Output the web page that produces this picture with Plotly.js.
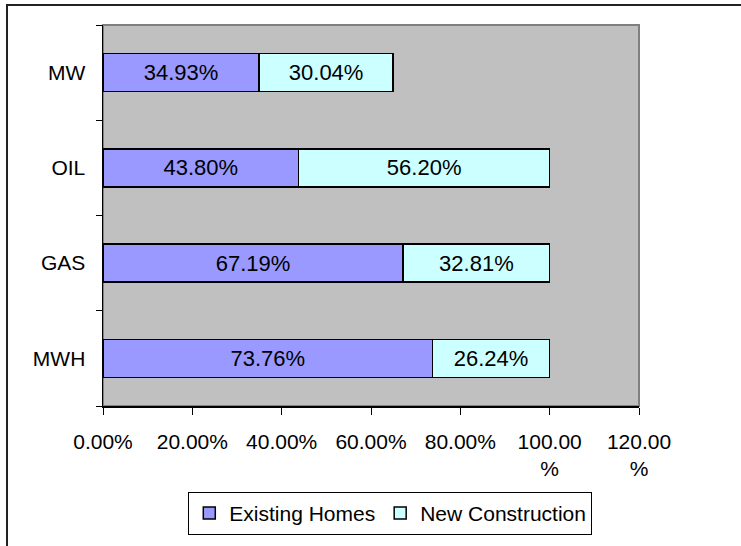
<!DOCTYPE html>
<html>
<head>
<meta charset="utf-8">
<script src="https://cdn.plot.ly/plotly-3.0.1.min.js"></script>
<style>
  html, body { margin: 0; padding: 0; background: #ffffff; }
  #wrap { position: relative; width: 741px; height: 546px; overflow: hidden; }
  #chart { position: absolute; left: 0; top: 0; width: 741px; height: 546px; }
  #frame { position: absolute; left: 6px; top: 4px; width: 900px; height: 900px;
           border-left: 2px solid #222; border-top: 2px solid #222; pointer-events: none; }
</style>
</head>
<body>
<div id="wrap">
  <div id="chart"></div>
  <div id="frame"></div>
</div>
<script>
// Categories (bottom to top as drawn)
const categories = ['MWH', 'GAS', 'OIL', 'MW'];
// Series values (percent)
const existingHomes = [73.76, 67.19, 43.80, 34.93];
const newConstruction = [26.24, 32.81, 56.20, 30.04];
const seriesNames = ['Existing Homes', 'New Construction'];
// X tick values and labels
const xTickVals = [0, 20, 40, 60, 80, 100, 120];
const xTickText = ['0.00%', '20.00%', '40.00%', '60.00%', '80.00%', '100.00<br>%', '120.00<br>%'];

const fontFam = 'Liberation Sans, Arial, sans-serif';
const fmt = v => v.toFixed(2) + '%';

const traces = [
  {
    type: 'bar', orientation: 'h', name: seriesNames[0],
    y: categories, x: existingHomes,
    text: existingHomes.map(fmt),
    textposition: 'inside', insidetextanchor: 'middle',
    textfont: { family: fontFam, size: 22, color: '#000' },
    marker: { color: '#9999FF', line: { color: '#000', width: 1.5 } },
    hoverinfo: 'skip'
  },
  {
    type: 'bar', orientation: 'h', name: seriesNames[1],
    y: categories, x: newConstruction,
    text: newConstruction.map(fmt),
    textposition: 'inside', insidetextanchor: 'middle',
    textfont: { family: fontFam, size: 22, color: '#000' },
    marker: { color: '#CCFFFF', line: { color: '#000', width: 1.5 } },
    hoverinfo: 'skip'
  }
];

const layout = {
  width: 741, height: 546,
  margin: { l: 103, r: 102, t: 25, b: 139, pad: 0 },
  paper_bgcolor: '#ffffff',
  plot_bgcolor: '#C0C0C0',
  barmode: 'stack',
  bargap: 0.6,
  font: { family: fontFam, size: 21, color: '#000' },
  xaxis: {
    range: [0, 120], tickmode: 'array', tickvals: xTickVals, ticktext: xTickText,
    showgrid: false, zeroline: false,
    showline: true, linecolor: '#000', linewidth: 1.5,
    ticks: 'outside', ticklen: 7, tickwidth: 1, tickcolor: '#000',
    tickfont: { family: fontFam, size: 21, color: '#000' },
    ticklabelstandoff: 9,
    fixedrange: true
  },
  yaxis: {
    type: 'category', showgrid: false, zeroline: false,
    showline: true, linecolor: '#000', linewidth: 1.5,
    ticks: 'outside', ticklen: 6, tickwidth: 1, tickcolor: '#000',
    tickson: 'boundaries',
    tickfont: { family: fontFam, size: 21, color: '#000' },
    ticklabelstandoff: 12,
    fixedrange: true
  },
  shapes: [
    { type: 'rect', xref: 'paper', yref: 'paper', x0: 0, x1: 1, y0: 0, y1: 1,
      line: { color: '#808080', width: 2 }, layer: 'below' }
  ],
  showlegend: true,
  legend: {
    orientation: 'h', x: 0.536, xanchor: 'center', y: -0.222, yanchor: 'top',
    bgcolor: '#ffffff', bordercolor: '#000', borderwidth: 1,
    font: { family: fontFam, size: 21, color: '#000' },
    traceorder: 'normal', itemwidth: 30
  }
};

Plotly.newPlot('chart', traces, layout, { displayModeBar: false, staticPlot: true });
</script>
</body>
</html>
